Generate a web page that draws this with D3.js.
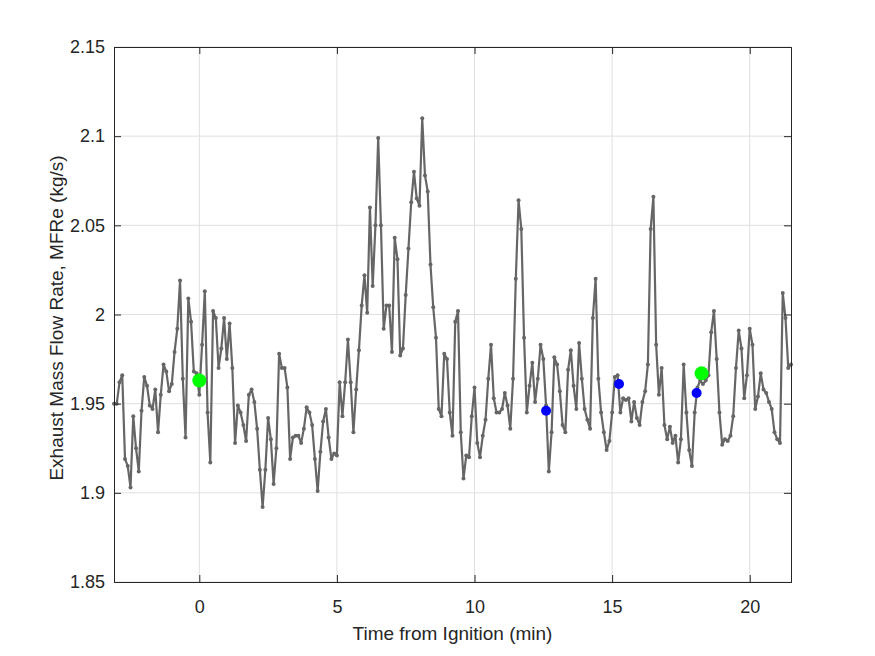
<!DOCTYPE html>
<html>
<head>
<meta charset="utf-8">
<script src="https://cdn.jsdelivr.net/npm/d3@7"></script>
<style>
  body { margin: 0; background: #fff; }
  text { font-family: "Liberation Sans", Arial, Helvetica, sans-serif; fill: #262626; }
</style>
</head>
<body>
<script>
// sampled every 0.1 min starting at -3.1 min
const timeStart = -3.1, timeStep = 0.1;
const mfre = [
  1.950, 1.950, 1.962, 1.966, 1.919, 1.915, 1.903, 1.943, 1.925, 1.912,
  1.946, 1.965, 1.960, 1.949, 1.947, 1.958, 1.934, 1.955, 1.972, 1.968,
  1.957, 1.961, 1.979, 1.992, 2.019, 1.964, 1.931, 2.009, 1.996, 1.968,
  1.967, 1.955, 1.983, 2.013, 1.945, 1.917, 2.002, 1.998, 1.970, 1.981,
  1.998, 1.975, 1.995, 1.970, 1.928, 1.949, 1.945, 1.938, 1.929, 1.955,
  1.958, 1.951, 1.936, 1.913, 1.892, 1.913, 1.942, 1.930, 1.905, 1.925,
  1.978, 1.970, 1.970, 1.959, 1.919, 1.931, 1.932, 1.932, 1.928, 1.936,
  1.948, 1.945, 1.938, 1.919, 1.901, 1.923, 1.940, 1.947, 1.931, 1.919,
  1.922, 1.921, 1.962, 1.943, 1.962, 1.986, 1.962, 1.934, 1.958, 1.980,
  2.005, 2.022, 2.001, 2.060, 2.016, 2.050, 2.099, 2.050, 1.992, 2.005,
  2.005, 1.979, 2.043, 2.031, 1.977, 1.981, 2.011, 2.037, 2.063, 2.080,
  2.065, 2.061, 2.110, 2.078, 2.069, 2.028, 2.004, 1.987, 1.947, 1.943,
  1.978, 1.975, 1.945, 1.932, 1.996, 2.002, 1.934, 1.908, 1.921, 1.920,
  1.943, 1.959, 1.928, 1.920, 1.932, 1.941, 1.964, 1.983, 1.953, 1.945,
  1.945, 1.947, 1.956, 1.949, 1.936, 1.964, 2.020, 2.064, 2.048, 1.987,
  1.945, 1.960, 1.973, 1.951, 1.964, 1.983, 1.975, 1.949, 1.912, 1.934,
  1.976, 1.972, 1.957, 1.938, 1.934, 1.969, 1.980, 1.960, 1.947, 1.984,
  1.964, 1.947, 1.941, 1.936, 1.998, 2.020, 1.964, 1.945, 1.934, 1.924,
  1.929, 1.945, 1.965, 1.966, 1.945, 1.953, 1.952, 1.953, 1.940, 1.951,
  1.942, 1.938, 1.951, 1.957, 1.972, 2.048, 2.066, 1.983, 1.955, 1.970,
  1.938, 1.930, 1.937, 1.928, 1.932, 1.917, 1.930, 1.972, 1.945, 1.924,
  1.915, 1.945, 1.959, 1.963, 1.961, 1.963, 1.966, 1.990, 2.002, 1.975,
  1.945, 1.927, 1.930, 1.929, 1.932, 1.943, 1.970, 1.991, 1.981, 1.953,
  1.966, 1.992, 1.983, 1.947, 1.954, 1.967, 1.958, 1.956, 1.951, 1.947,
  1.934, 1.930, 1.928, 2.012, 1.998, 1.970, 1.972
];

const greenTime = [0, 18.25];
const greenValue = [1.963, 1.967];
const blueTime = [12.6, 15.25, 18.07];
const blueValue = [1.946, 1.961, 1.956];

const xTicks = [0, 5, 10, 15, 20];
const yTicks = [1.85, 1.9, 1.95, 2, 2.05, 2.1, 2.15];

const width = 875, height = 656;
const margin = {top: 47, right: 84, bottom: 74, left: 114};

const data = mfre.map((v, i) => ({t: timeStart + i * timeStep, v}));

const x = d3.scaleLinear()
    .domain([-3.1, 21.5])
    .range([margin.left, width - margin.right]);
const y = d3.scaleLinear()
    .domain([1.85, 2.15])
    .range([height - margin.bottom, margin.top]);

const svg = d3.select("body").append("svg")
    .attr("width", width)
    .attr("height", height);

// grid
svg.append("g")
  .selectAll("line")
  .data(xTicks)
  .join("line")
    .attr("x1", d => x(d)).attr("x2", d => x(d))
    .attr("y1", margin.top).attr("y2", height - margin.bottom)
    .attr("stroke", "#dfdfdf");
svg.append("g")
  .selectAll("line")
  .data(yTicks)
  .join("line")
    .attr("x1", margin.left).attr("x2", width - margin.right)
    .attr("y1", d => y(d)).attr("y2", d => y(d))
    .attr("stroke", "#dfdfdf");

// trace
const line = d3.line().x(d => x(d.t)).y(d => y(d.v));
svg.append("path")
    .datum(data)
    .attr("fill", "none")
    .attr("stroke", "#666")
    .attr("stroke-width", 2.2)
    .attr("stroke-linejoin", "round")
    .attr("d", line);
svg.append("g")
  .selectAll("circle")
  .data(data)
  .join("circle")
    .attr("cx", d => x(d.t))
    .attr("cy", d => y(d.v))
    .attr("r", 2)
    .attr("fill", "#666");

// event markers
svg.append("g")
  .selectAll("circle")
  .data(blueTime.map((t, i) => ({t, v: blueValue[i]})))
  .join("circle")
    .attr("cx", d => x(d.t))
    .attr("cy", d => y(d.v))
    .attr("r", 5)
    .attr("fill", "#0000ff");
svg.append("g")
  .selectAll("circle")
  .data(greenTime.map((t, i) => ({t, v: greenValue[i]})))
  .join("circle")
    .attr("cx", d => x(d.t))
    .attr("cy", d => y(d.v))
    .attr("r", 7)
    .attr("fill", "#00ff00");

// axes (ticks inward, box on)
const fmt = d => String(d);
const axes = [
  svg.append("g").attr("transform", `translate(0,${height - margin.bottom})`)
    .call(d3.axisBottom(x).tickValues(xTicks).tickFormat(fmt).tickSize(-7).tickPadding(18)),
  svg.append("g").attr("transform", `translate(0,${margin.top})`)
    .call(d3.axisTop(x).tickValues(xTicks).tickFormat("").tickSize(-7)),
  svg.append("g").attr("transform", `translate(${margin.left},0)`)
    .call(d3.axisLeft(y).tickValues(yTicks).tickFormat(fmt).tickSize(-7).tickPadding(9)),
  svg.append("g").attr("transform", `translate(${width - margin.right},0)`)
    .call(d3.axisRight(y).tickValues(yTicks).tickFormat("").tickSize(-7))
];
axes.forEach(g => {
  g.select(".domain").attr("stroke", "#262626");
  g.selectAll(".tick line").attr("stroke", "#262626");
  g.selectAll(".tick text").attr("font-size", 18).attr("fill", "#262626")
    .attr("font-family", "'Liberation Sans', Arial, sans-serif");
});

svg.append("text")
    .attr("x", (margin.left + width - margin.right) / 2)
    .attr("y", 640)
    .attr("text-anchor", "middle")
    .attr("font-size", 19)
    .text("Time from Ignition (min)");

svg.append("text")
    .attr("transform", `translate(63,318) rotate(-90)`)
    .attr("text-anchor", "middle")
    .attr("font-size", 19)
    .text("Exhaust Mass Flow Rate, MFRe (kg/s)");
</script>
</body>
</html>
